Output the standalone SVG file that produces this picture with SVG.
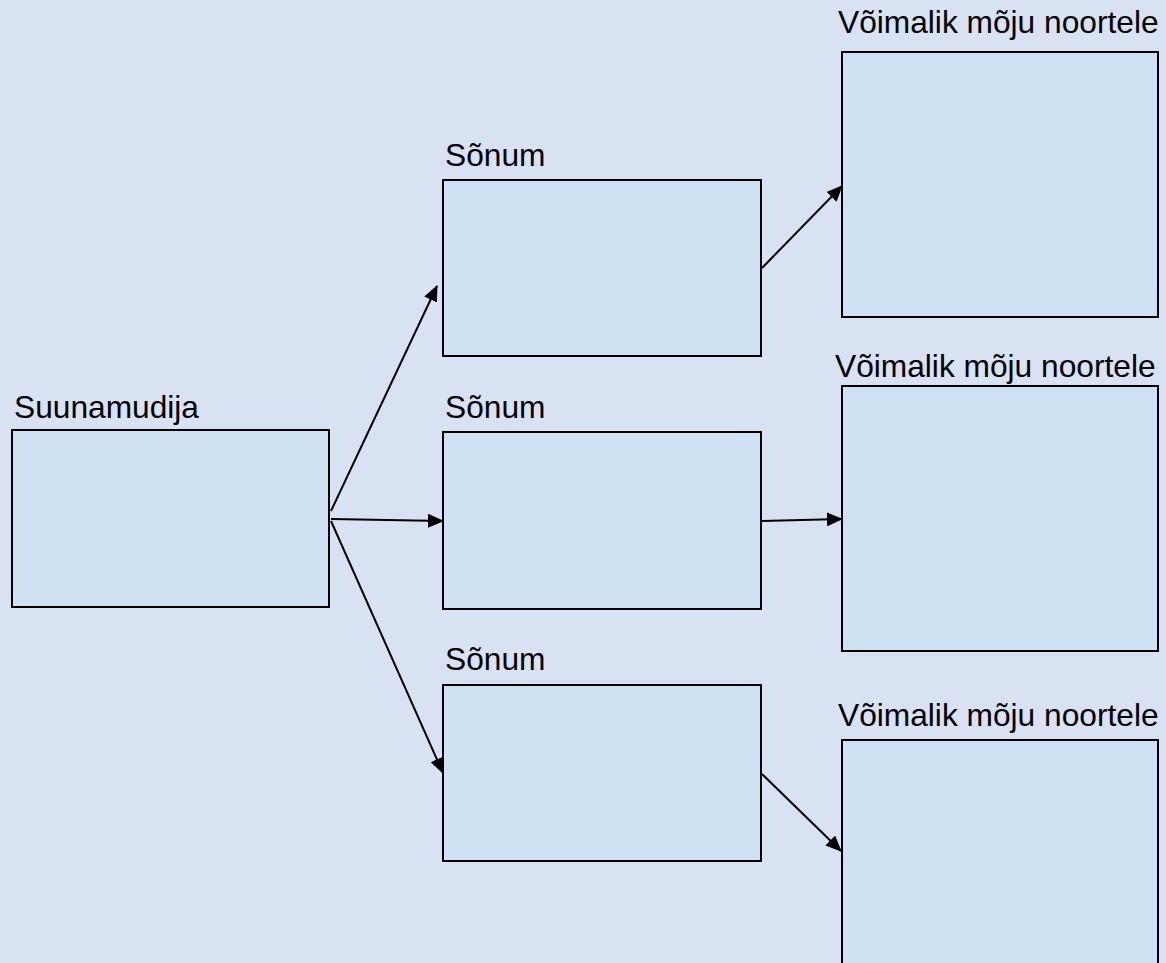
<svg xmlns="http://www.w3.org/2000/svg" width="1166" height="963" viewBox="0 0 1166 963">
<style>
.box{fill:#cfe2f3;stroke:#000;stroke-width:2}
.lbl{font-family:"Liberation Sans",Arial,sans-serif;font-size:31.7px;fill:#000}
.con{stroke:#000;stroke-width:2;fill:none;marker-end:url(#ah)}
</style>
<defs>
<marker id="ah" markerWidth="16" markerHeight="14" refX="15" refY="7" orient="auto" markerUnits="userSpaceOnUse">
<path d="M0,0 L16,7 L0,14 Z" fill="#000"/>
</marker>
</defs>
<rect width="1166" height="963" fill="#d9e2f3"/>
<g id="suunamudija">
<rect class="box" x="12" y="430" width="317" height="177"/>
<text class="lbl" x="14" y="418">Suunamudija</text>
</g>
<g id="sonum1">
<rect class="box" x="443" y="180" width="318" height="176"/>
<text class="lbl" x="445" y="166">Sõnum</text>
</g>
<g id="sonum2">
<rect class="box" x="443" y="432" width="318" height="177"/>
<text class="lbl" x="445" y="418">Sõnum</text>
</g>
<g id="sonum3">
<rect class="box" x="443" y="685" width="318" height="176"/>
<text class="lbl" x="445" y="670">Sõnum</text>
</g>
<g id="moju1">
<rect class="box" x="842" y="52" width="316" height="265"/>
<text class="lbl" x="838" y="33">Võimalik mõju noortele</text>
</g>
<g id="moju2">
<rect class="box" x="842" y="386" width="316" height="265"/>
<text class="lbl" x="835" y="377">Võimalik mõju noortele</text>
</g>
<g id="moju3">
<rect class="box" x="842" y="740" width="316" height="240"/>
<text class="lbl" x="838" y="726">Võimalik mõju noortele</text>
</g>
<g id="connectors">
<line class="con" x1="331" y1="511" x2="437" y2="286"/>
<line class="con" x1="331" y1="519" x2="443" y2="521"/>
<line class="con" x1="331" y1="521" x2="443" y2="773"/>
<line class="con" x1="762" y1="268" x2="842" y2="186"/>
<line class="con" x1="762" y1="521" x2="842" y2="519"/>
<line class="con" x1="762" y1="774" x2="841" y2="851"/>
</g>
</svg>
